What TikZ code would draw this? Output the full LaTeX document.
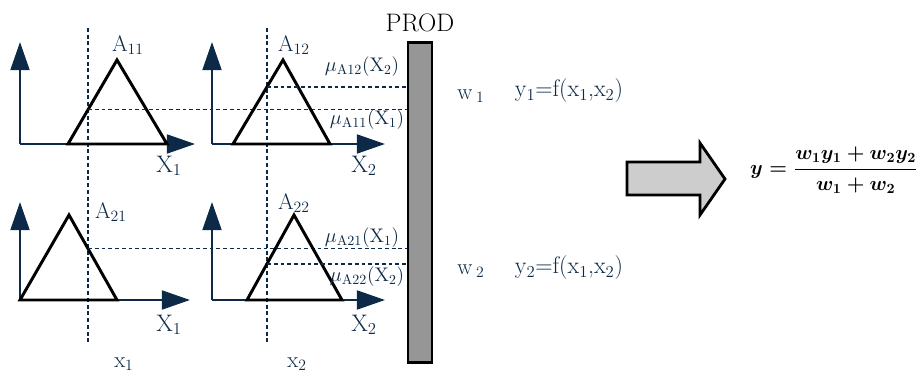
\documentclass[tikz,border=0pt]{standalone}
\usepackage{amsmath}
\usetikzlibrary{arrows.meta, positioning, calc}
\definecolor{navy}{RGB}{12,42,72}
\definecolor{bargray}{RGB}{150,150,150}
\definecolor{arrowgray}{RGB}{205,205,205}
\begin{document}
\begin{tikzpicture}[
  x=0.025cm, y=-0.025cm,
  axis/.style={draw=navy, line width=1.4pt, -{Triangle[length=20pt,width=13.5pt]}},
  mf/.style={draw=black, line width=2.1pt, line join=miter},
  guide/.style={draw=navy, line width=1pt, dash pattern=on 2.8pt off 2pt},
  prodbar/.style={draw=black, fill=bargray, line width=2pt, minimum width=0.6cm, minimum height=8cm, inner sep=0pt},
  bigarrow/.style={draw=black, fill=arrowgray, line width=2pt, line join=miter},
  axlbl/.style={text=navy, inner sep=0pt, font=\fontsize{17}{20}\selectfont},
  setlbl/.style={text=navy, inner sep=0pt, font=\fontsize{16}{19}\selectfont},
  mulbl/.style={text=navy, inner sep=0pt, font=\fontsize{14}{16}\selectfont},
  outlbl/.style={text=navy, inner sep=0pt, font=\fontsize{17}{20}\selectfont}
  ]
  \useasboundingbox (0,0) rectangle (920,373);
  % product layer
  \node[prodbar] (bar) at (420,202.5) {};
  \node[outlbl, font=\fontsize{18}{21}\selectfont, text=black, above=6pt of bar] (prod) {PROD};

  % crisp inputs
  \coordinate (v1t) at (88,28);
  \coordinate (v1b) at (88,345);
  \coordinate (v2t) at (267,28);
  \coordinate (v2b) at (267,345);
  \draw[guide] (v1t) -- (v1b);
  \draw[guide] (v2t) -- (v2b);
  \node[axlbl, font=\fontsize{16}{19}\selectfont] (x1) at (124,364) {x\textsubscript{1}};
  \node[axlbl, font=\fontsize{16}{19}\selectfont] (x2) at (297,364) {x\textsubscript{2}};

  % rule 1, input X1
  \coordinate (o11) at (20,144);
  \coordinate (a11l) at (68,144);
  \coordinate (a11t) at (117,60);
  \coordinate (a11r) at (167,144);
  \draw[axis] (o11) -- ++(0,-102);
  \draw[axis] (o11) -- ++(175,0);
  \draw[mf] (a11l) -- (a11t) -- (a11r) -- cycle;
  \node[setlbl] (A11) at (128,45) {A\textsubscript{11}};
  \node[axlbl] (X1a) at (169,166) {X\textsubscript{1}};
  \coordinate (m11) at (intersection of a11l--a11t and v1t--v1b);
  \draw[guide] (m11) -- (m11 -| bar.west);

  % rule 1, input X2
  \coordinate (o12) at (212,144);
  \coordinate (a12l) at (233,144);
  \coordinate (a12t) at (283,60);
  \coordinate (a12r) at (330,144);
  \draw[axis] (o12) -- ++(0,-102);
  \draw[axis] (o12) -- ++(173,0);
  \draw[mf] (a12l) -- (a12t) -- (a12r) -- cycle;
  \node[setlbl] (A12) at (294,45) {A\textsubscript{12}};
  \node[axlbl] (X2a) at (364,166) {X\textsubscript{2}};
  \coordinate (m12) at (intersection of a12l--a12t and v2t--v2b);
  \draw[guide] (m12) -- (m12 -| bar.west);
  \node[mulbl] (mu12) at (362,67) {$\mu_{\mathrm{A12}}$(X\textsubscript{2})};
  \node[mulbl] (mu11) at (367,120) {$\mu_{\mathrm{A11}}$(X\textsubscript{1})};

  % rule 2, input X1
  \coordinate (o21) at (20,300);
  \coordinate (a21l) at (20,300);
  \coordinate (a21t) at (69,215);
  \coordinate (a21r) at (117,300);
  \draw[axis] (o21) -- ++(0,-98);
  \draw[axis] (o21) -- ++(170,0);
  \draw[mf] (a21l) -- (a21t) -- (a21r) -- cycle;
  \node[setlbl] (A21) at (111,212) {A\textsubscript{21}};
  \node[axlbl] (X1b) at (169,325) {X\textsubscript{1}};
  \coordinate (m21) at (intersection of a21t--a21r and v1t--v1b);
  \draw[guide] (m21) -- (m21 -| bar.west);

  % rule 2, input X2
  \coordinate (o22) at (212,300);
  \coordinate (a22l) at (247,300);
  \coordinate (a22t) at (294,215);
  \coordinate (a22r) at (342,300);
  \draw[axis] (o22) -- ++(0,-98);
  \draw[axis] (o22) -- ++(173,0);
  \draw[mf] (a22l) -- (a22t) -- (a22r) -- cycle;
  \node[setlbl] (A22) at (294,203) {A\textsubscript{22}};
  \node[axlbl] (X2b) at (364,325) {X\textsubscript{2}};
  \coordinate (m22) at (intersection of a22l--a22t and v2t--v2b);
  \draw[guide] (m22) -- (m22 -| bar.west);
  \node[mulbl] (mu21) at (362,238) {$\mu_{\mathrm{A21}}$(X\textsubscript{1})};
  \node[mulbl] (mu22) at (367,277) {$\mu_{\mathrm{A22}}$(X\textsubscript{2})};

  % firing strengths and rule outputs
  \node[outlbl, font=\fontsize{16}{19}\selectfont] (w1) at (471,96) {w\,\textsubscript{1}};
  \node[outlbl] (y1) at (569,91) {y\textsubscript{1}=f(x\textsubscript{1},x\textsubscript{2})};
  \node[outlbl, font=\fontsize{16}{19}\selectfont] (w2) at (471,271) {w\,\textsubscript{2}};
  \node[outlbl] (y2) at (569,268) {y\textsubscript{2}=f(x\textsubscript{1},x\textsubscript{2})};

  % weighted average
  \draw[bigarrow] (627,162) -- (700,162) -- (700,143) -- (725,179) -- (700,215) -- (700,195) -- (627,195) -- cycle;
  \node[inner sep=0pt, font=\fontsize{14}{17}\selectfont\boldmath] (yout) at (834,170) {$y=\dfrac{w_1y_1+w_2y_2}{w_1+w_2}$};
\end{tikzpicture}
\end{document}
